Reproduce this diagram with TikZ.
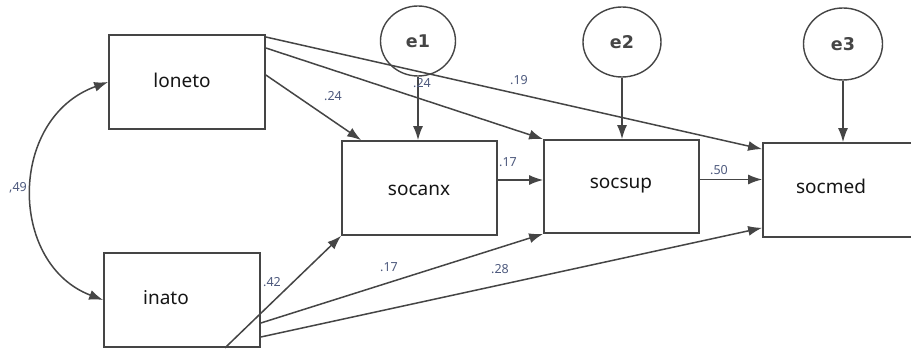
\documentclass[tikz,border=0pt]{standalone}
\usepackage{fontspec}
\setmainfont{Noto Sans}
\newfontfamily\errfont{DejaVu Sans}
\usetikzlibrary{arrows.meta,shapes.geometric,calc}
\definecolor{edge}{HTML}{454545}
\definecolor{coef}{HTML}{4E5A7E}
\definecolor{ink}{HTML}{151515}
\tikzset{
  obs/.style={draw=edge, line width=1.7pt, fill=white, rectangle, inner sep=0pt},
  err/.style={draw=edge, line width=1.4pt, fill=white, ellipse, inner sep=0pt},
  vname/.style={font=\fontsize{19}{19}\selectfont, text=ink, inner sep=0pt},
  ename/.style={font=\errfont\fontsize{17.5}{17.5}\selectfont\bfseries, text=edge, inner sep=0pt},
  coefl/.style={font=\fontsize{12.5}{12.5}\selectfont, text=coef, inner sep=0pt},
  path/.style={draw=edge, line width=1.5pt, -{Latex[length=14pt,width=10pt]}},
  cov/.style={draw=edge, line width=1.5pt, {Latex[length=14pt,width=10pt]}-{Latex[length=14pt,width=10pt]}}
}
\begin{document}
\begin{tikzpicture}[x=1pt,y=-1pt]
\useasboundingbox (0,0) rectangle (911,352);
\clip (0,0) rectangle (911,352);
\fill[white] (0,0) rectangle (911,352);

% observed variables
\node[obs, minimum width=156pt, minimum height=94pt] (loneto) at (187,82) {};
\node[obs, minimum width=156pt, minimum height=94pt] (inato) at (182,300) {};
\node[obs, minimum width=155pt, minimum height=94pt] (socanx) at (419.5,188) {};
\node[obs, minimum width=155pt, minimum height=93pt] (socsup) at (621.5,186.5) {};
\node[obs, minimum width=180pt, minimum height=94pt] (socmed) at (853,190) {};

\node[vname] (lonetolab) at (182,80) {loneto};
\node[vname] (inatolab) at (166,298) {inato};
\node[vname] (socanxlab) at (419,190) {socanx};
\node[vname] (socsuplab) at (621,186) {socsup};
\node[vname] (socmedlab) at (831,186) {socmed};

% error terms
\node[err, minimum width=75pt, minimum height=70pt] (e1) at (418,41) {};
\node[err, minimum width=78pt, minimum height=70pt] (e2) at (622,42) {};
\node[err, minimum width=79pt, minimum height=72pt] (e3) at (843,44) {};
\node[ename] at (e1) {e1};
\node[ename] at (e2) {e2};
\node[ename] at (e3) {e3};

% residual paths
\draw[path] (e1.south) -- (e1.south |- socanx.north);
\draw[path] (e2.south) -- (e2.south |- socsup.north);
\draw[path] (e3.south) -- (e3.south |- socmed.north);

% paths from loneto
\draw[path] ([yshift=7pt]loneto.east) -- ([xshift=20pt]socanx.north west);
\draw[path] ([yshift=34pt]loneto.east) -- (socsup.north west);
\draw[path] ([yshift=45pt]loneto.east) -- ([yshift=-7pt]socmed.north west);

% paths between mediators
\draw[path] ([yshift=8pt]socanx.east) -- ([yshift=8pt]socanx.east -| socsup.west);
\draw[path] ([yshift=7pt]socsup.east) -- ([yshift=7pt]socsup.east -| socmed.west);

% paths from inato
\draw[path] ([xshift=43pt]inato.south) -- (socanx.south west);
\draw[path] ([yshift=-23pt]inato.east) -- (socsup.south west);
\draw[path] ([yshift=-37pt]inato.east) -- ([yshift=10pt]socmed.south west);

% covariance
\draw[cov] (loneto.west) .. controls (8,118) and (8,264) .. (inato.west);

% coefficients
\node[coefl] (c49) at (18,188) {,49};
\node[coefl] (c24a) at (333,96) {.24};
\node[coefl] (c24b) at (422,83) {.24};
\node[coefl] (c19) at (519,80) {.19};
\node[coefl] (c17a) at (508,162) {.17};
\node[coefl] (c50) at (719,170) {.50};
\node[coefl] (c42) at (272,282) {.42};
\node[coefl] (c17b) at (389,267) {.17};
\node[coefl] (c28) at (500,269) {.28};
\end{tikzpicture}
\end{document}
